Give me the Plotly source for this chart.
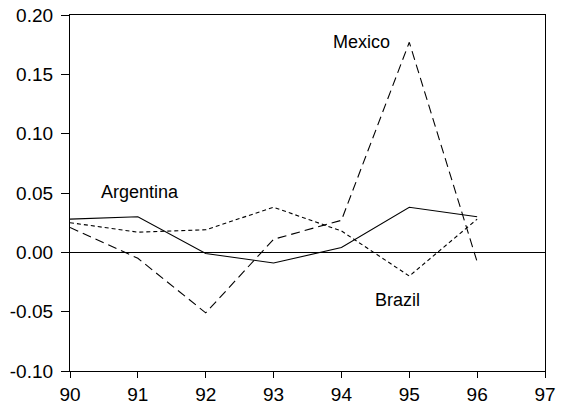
import plotly.graph_objects as go

years = [90, 91, 92, 93, 94, 95, 96]
argentina = [0.028, 0.030, -0.001, -0.009, 0.004, 0.038, 0.030]
mexico = [0.021, -0.005, -0.051, 0.011, 0.027, 0.177, -0.008]
brazil = [0.025, 0.017, 0.019, 0.038, 0.018, -0.020, 0.028]

x_ticks = [90, 91, 92, 93, 94, 95, 96, 97]
y_ticks = [-0.10, -0.05, 0.00, 0.05, 0.10, 0.15, 0.20]
y_tick_text = ["-0.10", "-0.05", "0.00", "0.05", "0.10", "0.15", "0.20"]

font_family = "Liberation Sans, Arial, sans-serif"

fig = go.Figure()
fig.add_trace(go.Scatter(x=years, y=argentina, mode="lines", name="Argentina",
                         line=dict(color="black", width=1.1)))
fig.add_trace(go.Scatter(x=years, y=mexico, mode="lines", name="Mexico",
                         line=dict(color="black", width=1.1, dash="9px,5px")))
fig.add_trace(go.Scatter(x=years, y=brazil, mode="lines", name="Brazil",
                         line=dict(color="black", width=1.1, dash="4px,3px")))

# Series labels placed beside their lines
labels = [("Argentina", 91.03, 0.0505), ("Mexico", 94.3, 0.177), ("Brazil", 94.82, -0.0405)]
for text, x, y in labels:
    fig.add_annotation(x=x, y=y, text=text, showarrow=False, xanchor="center",
                       yanchor="middle", font=dict(family=font_family, size=18, color="black"))

fig.update_layout(
    width=571, height=405,
    margin=dict(l=70, r=26, t=15, b=34),
    paper_bgcolor="white", plot_bgcolor="white",
    showlegend=False,
    font=dict(family=font_family, size=19, color="black"),
)
fig.update_xaxes(range=[90, 97], tickvals=x_ticks, ticktext=[str(v) for v in x_ticks],
                 showgrid=False, zeroline=False, showline=True, linecolor="black",
                 linewidth=1.2, mirror=True, ticks="outside", ticklen=6, tickcolor="black",
                 tickfont=dict(size=19), automargin=False)
fig.update_yaxes(range=[-0.10, 0.20], tickvals=y_ticks, ticktext=y_tick_text,
                 showgrid=False, zeroline=True, zerolinecolor="black", zerolinewidth=1,
                 showline=True, linecolor="black", linewidth=1.2, mirror=True,
                 ticks="outside", ticklen=8, tickcolor="black", tickfont=dict(size=19),
                 ticklabelstandoff=4, automargin=False)

fig.write_html("out.html")
